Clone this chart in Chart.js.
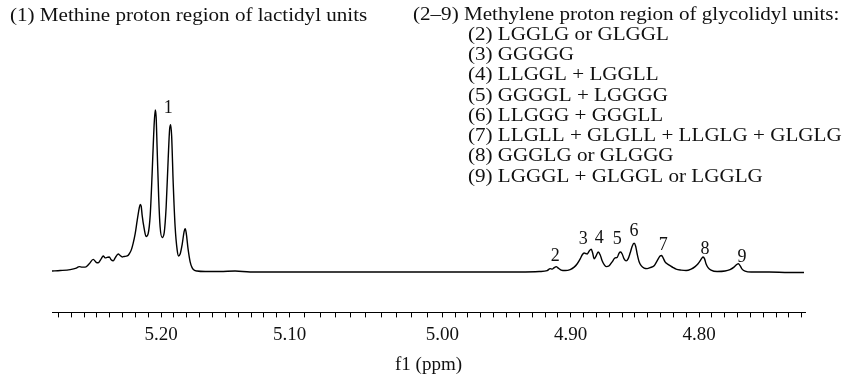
<!DOCTYPE html>
<html lang="en">
<head>
  <meta charset="UTF-8" />
  <title>1H NMR - methine / methylene region</title>
  <script src="https://cdn.jsdelivr.net/npm/chart.js"></script>
  <style>
    body { margin: 0; background: #fff; }
    #wrap { width: 845px; height: 378px; position: relative; }
  </style>
</head>
<body>

<div id="wrap"><canvas id="nmr"></canvas></div>

<script>
  // (1) methine region, lactidyl units
  const methinePpm = [5.285, 5.2786, 5.2708, 5.2661, 5.2638, 5.2615, 5.2591, 5.2560, 5.2529, 5.2506,
    5.2490, 5.2467, 5.2451, 5.2436, 5.2420, 5.2404, 5.2389, 5.2373, 5.2358, 5.2334,
    5.2319, 5.2303, 5.2288, 5.2264, 5.2249, 5.2233, 5.2218, 5.2202, 5.2187, 5.2171,
    5.2163, 5.2155, 5.2148, 5.2132, 5.2117, 5.2101, 5.2085, 5.2070, 5.2058, 5.2046,
    5.2039, 5.2031, 5.2019, 5.2008, 5.1992, 5.1976, 5.1961, 5.1945, 5.1934, 5.1926,
    5.1918, 5.1906, 5.1891, 5.1875, 5.1864, 5.1852, 5.1836, 5.1821, 5.1813, 5.1805,
    5.1790, 5.1774, 5.1759, 5.1743, 5.1720, 5.1657, 5.1541, 5.1424, 5.1307, 5.1152];
  const methineInt = [0.5, 1, 2, 3.5, 5, 4.5, 4.5, 8, 12.5, 9.5,
    9, 13, 16, 14, 14.5, 15, 12, 11, 14, 18,
    16.5, 15, 15.5, 16, 18, 22, 29, 39, 52, 65,
    69, 67, 58, 44, 36, 39, 58, 101, 141, 166,
    159, 126, 76, 46, 35, 40, 66, 116, 146, 151,
    139, 91, 46, 22, 16, 18, 28, 41, 44, 40,
    23, 10, 4, 1.5, 0.5, 0, 0, 0.5, -0.5, -0.5];

  // flat baseline between the two regions
  const gapPpm = [5.10, 5.05, 5.00];
  const gapInt = [-0.5, -0.5, -0.5];

  // (2-9) methylene region, glycolidyl units
  const methylenePpm = [4.9712, 4.9401, 4.9245, 4.9183, 4.9160, 4.9144, 4.9128, 4.9113, 4.9097, 4.9074,
    4.9043, 4.9004, 4.8973, 4.8949, 4.8926, 4.8911, 4.8895, 4.8883, 4.8872, 4.8856,
    4.8840, 4.8829, 4.8817, 4.8802, 4.8786, 4.8770, 4.8755, 4.8739, 4.8724, 4.8700,
    4.8677, 4.8654, 4.8638, 4.8623, 4.8611, 4.8599, 4.8584, 4.8568, 4.8553, 4.8537,
    4.8521, 4.8506, 4.8494, 4.8482, 4.8467, 4.8451, 4.8428, 4.8405, 4.8381, 4.8350,
    4.8327, 4.8304, 4.8292, 4.8280, 4.8265, 4.8249, 4.8226, 4.8202, 4.8179, 4.8140,
    4.8101, 4.8062, 4.8031, 4.8008, 4.7992, 4.7977, 4.7969, 4.7957, 4.7946, 4.7930,
    4.7907, 4.7860, 4.7798, 4.7759, 4.7728, 4.7704, 4.7693, 4.7681, 4.7665, 4.7642,
    4.7595, 4.7455, 4.7300, 4.7183];
  const methyleneInt = [-0.5, -0.5, 0, 1, 3, 2.5, 4, 5, 3.5, 1.5,
    1, 2, 4.5, 8, 13, 17, 19, 18.5, 18, 21,
    23, 19, 13, 16, 20, 17, 11, 7, 5, 6,
    10, 14, 14.5, 19, 20, 18, 13, 11, 13, 19,
    26, 29, 26, 18, 10, 6, 3.5, 3, 4, 6,
    11, 16, 16.5, 14, 10, 8, 6, 4, 2.5, 1.5,
    1, 2.5, 5, 8, 11, 14, 15, 13, 8, 4,
    1.5, 0, 0.5, 2, 4.5, 7.5, 8, 6, 2.5, 0.5,
    -0.5, -0.5, -1, -1];

  // peak numbers
  const peakNames = ["1", "2", "3", "4", "5", "6", "7", "8", "9"];
  const peakPpm = [5.1945, 4.9121, 4.8903, 4.8778, 4.8638, 4.8506, 4.8280, 4.7953, 4.7665];
  const peakInt = [168, 16, 33, 34, 33, 41, 27, 23, 15];

  const leftNote = "(1) Methine proton region of lactidyl units";
  const rightTitle = "(2\u20139) Methylene proton region of glycolidyl units:";
  const rightLines = [
    "(2) LGGLG or GLGGL",
    "(3) GGGGG",
    "(4) LLGGL + LGGLL",
    "(5) GGGGL + LGGGG",
    "(6) LLGGG + GGGLL",
    "(7) LLGLL + GLGLL + LLGLG + GLGLG",
    "(8) GGGLG or GLGGG",
    "(9) LGGGL + GLGGL or LGGLG"
  ];

  const axisMin = 4.7175, axisMax = 5.285;
  // the original plot has the empty 5.10-5.00 stretch drawn a bit wider
  const cutLow = 5.00, cutHigh = 5.10, cutStretch = 1.19;

  function warped(v, min) {
    return (Math.min(v, cutLow) - min)
      + Math.max(0, Math.min(v, cutHigh) - cutLow) * cutStretch
      + Math.max(0, v - cutHigh);
  }

  class WarpScale extends Chart.LinearScale {
    getPixelForValue(value) {
      if (value === null || isNaN(value)) return NaN;
      return this.getPixelForDecimal(warped(value, this.min) / warped(this.max, this.min));
    }
    getValueForPixel(pixel) {
      const w = this.getDecimalForPixel(pixel) * warped(this.max, this.min);
      const a = cutLow - this.min, b = (cutHigh - cutLow) * cutStretch;
      if (w <= a) return this.min + w;
      if (w <= a + b) return cutLow + (w - a) / cutStretch;
      return cutHigh + (w - a - b);
    }
  }
  WarpScale.id = "warp";
  WarpScale.defaults = Chart.LinearScale.defaults;
  Chart.register(WarpScale);

  const ppm = [...methinePpm, ...gapPpm, ...methylenePpm];
  const intensity = [...methineInt, ...gapInt, ...methyleneInt];
  const points = ppm.map((p, i) => ({ x: p, y: intensity[i] }));

  const serif = '"Liberation Serif", "DejaVu Serif", serif';

  // the source typeface is wider than Times, so stretch the notes a little
  function wideText(ctx, text, x, y) {
    ctx.save();
    ctx.translate(x, y);
    ctx.scale(1.11, 1);
    ctx.fillText(text, 0, 0);
    ctx.restore();
  }

  const annotate = {
    id: "annotate",
    afterDraw(chart) {
      const ctx = chart.ctx, xs = chart.scales.x, ys = chart.scales.y;
      ctx.save();
      ctx.fillStyle = "#111";
      ctx.font = "19px " + serif;
      ctx.textBaseline = "middle";
      ctx.textAlign = "left";
      wideText(ctx, leftNote, 10, 16);
      wideText(ctx, rightTitle, 413, 15);
      rightLines.forEach((t, i) => wideText(ctx, t, 468, 35 + i * 20.25));
      ctx.font = "18px " + serif;
      ctx.textAlign = "center";
      peakNames.forEach((n, i) => {
        ctx.fillText(n, xs.getPixelForValue(peakPpm[i]), ys.getPixelForValue(peakInt[i]));
      });
      ctx.restore();
    }
  };

  new Chart(document.getElementById("nmr"), {
    type: "line",
    data: {
      datasets: [{
        data: points,
        borderColor: "#000",
        borderWidth: 1.4,
        pointRadius: 0,
        fill: false,
        cubicInterpolationMode: "monotone",
        clip: false
      }]
    },
    options: {
      responsive: true,
      maintainAspectRatio: false,
      animation: false,
      events: [],
      layout: { padding: { left: 52, right: 40, top: 110, bottom: 2 } },
      plugins: { legend: { display: false }, tooltip: { enabled: false } },
      scales: {
        x: {
          type: "warp",
          reverse: true,
          min: axisMin,
          max: axisMax,
          border: { display: true, color: "#000", width: 1 },
          grid: { display: true, drawOnChartArea: false, drawTicks: true, tickLength: 5, color: "#000" },
          ticks: {
            stepSize: 0.01,
            includeBounds: false,
            autoSkip: false,
            maxRotation: 0,
            padding: 6,
            color: "#111",
            font: { family: serif, size: 19 },
            callback: v => Math.abs(v * 10 - Math.round(v * 10)) < 1e-6 ? v.toFixed(2) : ""
          },
          title: {
            display: true,
            text: "f1 (ppm)",
            color: "#111",
            font: { family: serif, size: 19 },
            padding: { top: 1, bottom: 0 }
          }
        },
        y: { display: false, min: -42, max: 166 }
      }
    },
    plugins: [annotate]
  });
</script>

</body>
</html>
